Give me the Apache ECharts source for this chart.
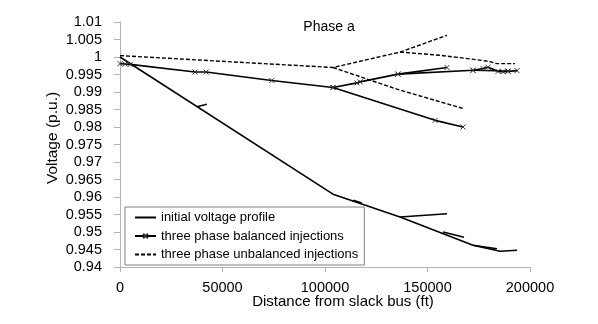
<!DOCTYPE html>
<html>
<head>
<meta charset="utf-8">
<script src="https://cdn.jsdelivr.net/npm/echarts@6/dist/echarts.min.js"></script>
<style>
html,body{margin:0;padding:0;background:#fff;}
#chart{width:598px;height:324px;}
</style>
</head>
<body>
<div id="chart"></div>
<script>
// ---- Data (distance ft, voltage p.u.) ----
const seriesNames = ['initial voltage profile', 'three phase balanced injections', 'three phase unbalanced injections'];
const xTicks = [0, 50000, 100000, 150000, 200000];
const yTicks = [0.94, 0.945, 0.95, 0.955, 0.96, 0.965, 0.97, 0.975, 0.98, 0.985, 0.99, 0.995, 1, 1.005, 1.01];

// initial voltage profile branches
const initialTrunk = [[0, 1.0], [103900, 0.9608], [136600, 0.9543], [172200, 0.9462], [185400, 0.9445], [193700, 0.9448]];
const initialBranchA = [[37500, 0.9858], [42400, 0.9865]];
const initialBranchB = [[117900, 0.9583], [113800, 0.9591]];
const initialBranchC = [[136600, 0.9543], [159500, 0.9552]];
const initialBranchD = [[157600, 0.9500], [167800, 0.9485]];
const initialBranchE = [[172200, 0.9462], [183900, 0.9452]];

// three phase balanced injections branches
const balancedMain = [[0, 0.9981], [2500, 0.9980], [5000, 0.9979], [36600, 0.9957], [42000, 0.9957], [74000, 0.9933], [103900, 0.9913], [115600, 0.9926], [117100, 0.9929], [135600, 0.9951], [172200, 0.9962], [177100, 0.9967], [179500, 0.9971], [184400, 0.9959], [186800, 0.9958], [189300, 0.9959], [193700, 0.9961]];
const balancedBranchA = [[135600, 0.9951], [159500, 0.9970]];
const balancedBranchB = [[103900, 0.9913], [153700, 0.9819], [167300, 0.9800]];
const balancedBranchC = [[172200, 0.9962], [189300, 0.9960]];

// three phase unbalanced injections branches
const unbalancedMain = [[0, 1.0004], [103900, 0.9970], [136600, 1.0014], [159500, 1.0062]];
const unbalancedBranchA = [[136600, 1.0014], [156100, 1.0005], [175600, 0.9991], [180500, 0.9987], [183900, 0.9981], [192700, 0.9981]];
const unbalancedBranchB = [[103900, 0.9970], [135100, 0.9908], [167300, 0.9853]];

const initialBranches = [initialTrunk, initialBranchA, initialBranchB, initialBranchC, initialBranchD, initialBranchE];
const balancedBranches = [balancedMain, balancedBranchA, balancedBranchB, balancedBranchC];
const unbalancedBranches = [unbalancedMain, unbalancedBranchA, unbalancedBranchB];

// ---- Chart ----
const FONT = 'Liberation Sans';
const xMark = 'path://M0,0L10,10M10,0L0,10';

function mk(name, data, opts) {
  return Object.assign({
    name: name,
    type: 'line',
    data: data,
    animation: false,
    silent: true,
    lineStyle: { color: '#000', width: 1.6 },
    itemStyle: { color: '#000' },
    showSymbol: false,
    symbol: 'none',
    z: 3
  }, opts || {});
}

const series = [];
initialBranches.forEach(d => series.push(mk(seriesNames[0], d)));
balancedBranches.forEach(d => series.push(mk(seriesNames[1], d, {
  symbol: xMark, symbolSize: 5, showSymbol: true, showAllSymbol: true,
  itemStyle: { color: '#000', borderColor: '#333', borderWidth: 1 }
})));
unbalancedBranches.forEach(d => series.push(mk(seriesNames[2], d, {
  lineStyle: { color: '#000', width: 1.4, type: [4, 2] }
})));

const chart = echarts.init(document.getElementById('chart'), null, { renderer: 'canvas' });
chart.setOption({
  backgroundColor: '#fff',
  animation: false,
  textStyle: { fontFamily: FONT },
  grid: { left: 120, right: 68, top: 22, bottom: 57, containLabel: false },
  xAxis: {
    type: 'value', min: xTicks[0], max: xTicks[xTicks.length - 1], interval: 50000,
    axisLine: { show: true, onZero: false, lineStyle: { color: '#b3b3b3', width: 1 } },
    axisTick: { show: true, length: 5, lineStyle: { color: '#b3b3b3' } },
    axisLabel: { color: '#000', fontSize: 14.5, fontFamily: FONT, margin: 13,
      formatter: v => String(Math.round(v)) },
    splitLine: { show: false }
  },
  yAxis: {
    type: 'value', min: yTicks[0], max: yTicks[yTicks.length - 1], interval: 0.005,
    axisLine: { show: true, onZero: false, lineStyle: { color: '#b3b3b3', width: 1 } },
    axisTick: { show: true, length: 6, lineStyle: { color: '#b3b3b3' } },
    axisLabel: { color: '#000', fontSize: 14.5, fontFamily: FONT, margin: 18,
      formatter: v => String(+v.toFixed(3)) },
    splitLine: { show: false }
  },
  legend: {
    data: [
      { name: seriesNames[0], itemStyle: { opacity: 0 } },
      { name: seriesNames[1] },
      { name: seriesNames[2], itemStyle: { opacity: 0 } }
    ],
    orient: 'vertical',
    left: 125, top: 207,
    padding: [3, 6, 3, 9],
    itemWidth: 21, itemHeight: 6, itemGap: 3.5,
    backgroundColor: '#fff',
    borderColor: '#7f7f7f', borderWidth: 1, borderRadius: 0,
    textStyle: { color: '#000', fontSize: 13, fontFamily: FONT, lineHeight: 15 },
    selectedMode: false
  },
  graphic: [
    { type: 'text', x: 329, y: 27, z: 10,
      style: { text: 'Phase a', font: '14px "Liberation Sans"', fill: '#000', textAlign: 'center', textVerticalAlign: 'middle' } },
    { type: 'text', x: 343, y: 302, z: 10,
      style: { text: 'Distance from slack bus (ft)', font: '15px "Liberation Sans"', fill: '#000', textAlign: 'center', textVerticalAlign: 'middle' } },
    { type: 'text', x: 53, y: 138, rotation: Math.PI / 2, z: 10,
      style: { text: 'Voltage (p.u.)', font: '15.5px "Liberation Sans"', fill: '#000', textAlign: 'center', textVerticalAlign: 'middle' } }
  ],
  series: series
});
</script>
</body>
</html>
